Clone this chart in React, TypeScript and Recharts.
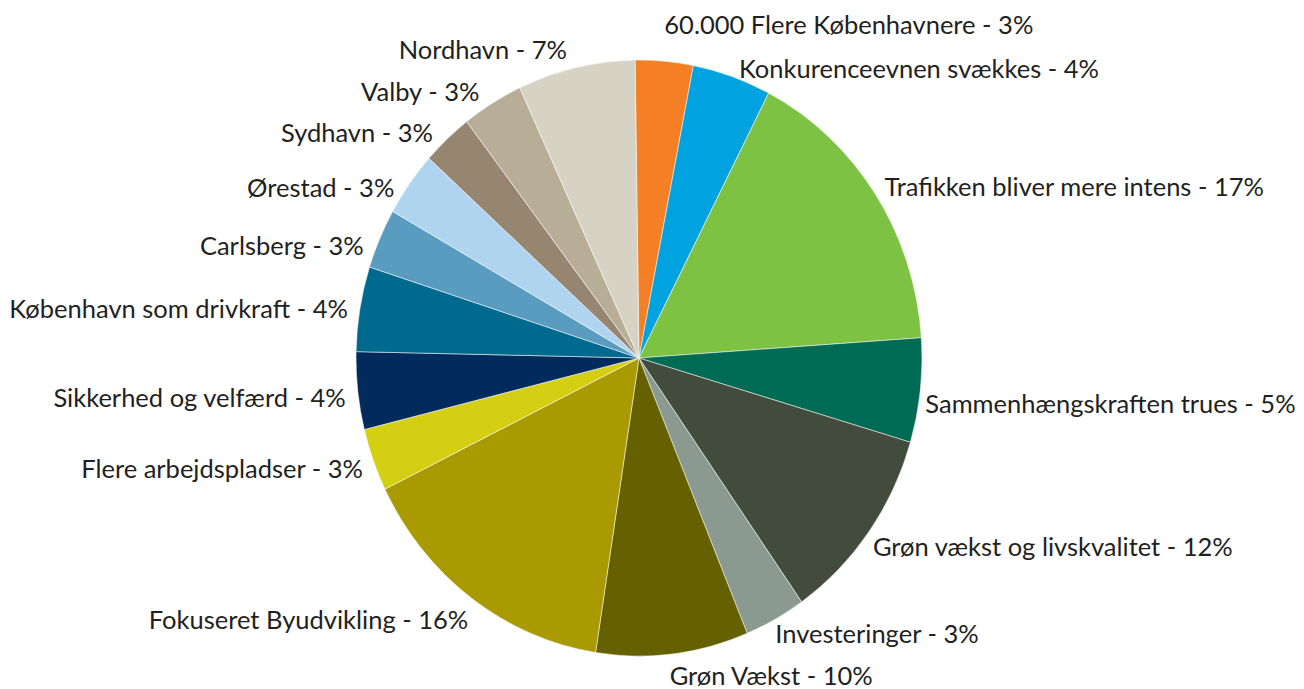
import { Cell, Pie, PieChart } from 'recharts';

// slices clockwise from 12 o'clock
const names = [
  '60.000 Flere Københavnere',
  'Konkurenceevnen svækkes',
  'Trafikken bliver mere intens',
  'Sammenhængskraften trues',
  'Grøn vækst og livskvalitet',
  'Investeringer',
  'Grøn Vækst',
  'Fokuseret Byudvikling',
  'Flere arbejdspladser',
  'Sikkerhed og velfærd',
  'København som drivkraft',
  'Carlsberg',
  'Ørestad',
  'Sydhavn',
  'Valby',
  'Nordhavn',
];
// share of the circle as drawn
const shares = [3.3, 4.5, 16.35, 5.65, 10.7, 3.5, 8.7, 15.3, 3.4, 4.2, 4.6, 3.25, 3.5, 2.9, 3.5, 6.7];
// percentage printed in the label
const labelPct = [3, 4, 17, 5, 12, 3, 10, 16, 3, 4, 4, 3, 3, 3, 3, 7];
const colors = [
  '#F47F24', '#00A3E0', '#7DC242', '#006B55', '#414C3D', '#8A9A91', '#666100', '#A89A00',
  '#D4CF12', '#002B5C', '#006A8E', '#5A9CC0', '#AED4F0', '#968670', '#B8AE97', '#D6D3C5',
];

const data = names.map((name, i) => ({ name, value: shares[i], pct: labelPct[i] }));

const CX = 639;
const CY = 358;
const R = 283;
const SY = 1.053; // the pie is drawn slightly taller than wide
const RAD = Math.PI / 180;

// label nudges from the rim point [dx, dy]
const nudge: [number, number][] = [
  [0, -37], [7, -9], [9, -8], [5, 12], [4, 14], [0, 14], [-3, 21], [-3, 21],
  [-10, 8], [-12, 6], [-12, -1], [-16, 6], [-15, 3], [-14, -7], [-13, -12], [-9, -18],
];

function renderLabel(props: any) {
  const { cx, cy, midAngle, outerRadius, index } = props;
  const x0 = cx + outerRadius * Math.cos(midAngle * RAD);
  const y0 = cy - outerRadius * Math.sin(midAngle * RAD) * SY;
  const right = x0 >= cx;
  const [dx, dy] = nudge[index];
  return (
    <text
      x={x0 + dx}
      y={y0 + dy}
      textAnchor={right ? 'start' : 'end'}
      dominantBaseline="central"
      fill="#231F20"
      fontSize={25.5}
      fontFamily="Lato, sans-serif"
    >
      {`${data[index].name} - ${data[index].pct}%`}
    </text>
  );
}

export default function App() {
  return (
    <div style={{ position: 'absolute', left: 0, top: 0, width: 1304, height: 689, background: '#fff' }}>
      <style>{`path.recharts-sector { transform: scale(1, ${SY}); transform-origin: ${CX}px ${CY}px; }`}</style>
      <PieChart width={1304} height={689} margin={{ top: 0, right: 0, bottom: 0, left: 0 }}>
        <Pie
          data={data}
          dataKey="value"
          nameKey="name"
          cx={CX}
          cy={CY}
          outerRadius={R}
          startAngle={90.8}
          endAngle={-269.2}
          stroke="#fff"
          strokeWidth={0.5}
          label={renderLabel}
          labelLine={false}
          isAnimationActive={false}
        >
          {data.map((d, i) => (
            <Cell key={d.name} fill={colors[i]} />
          ))}
        </Pie>
      </PieChart>
    </div>
  );
}
